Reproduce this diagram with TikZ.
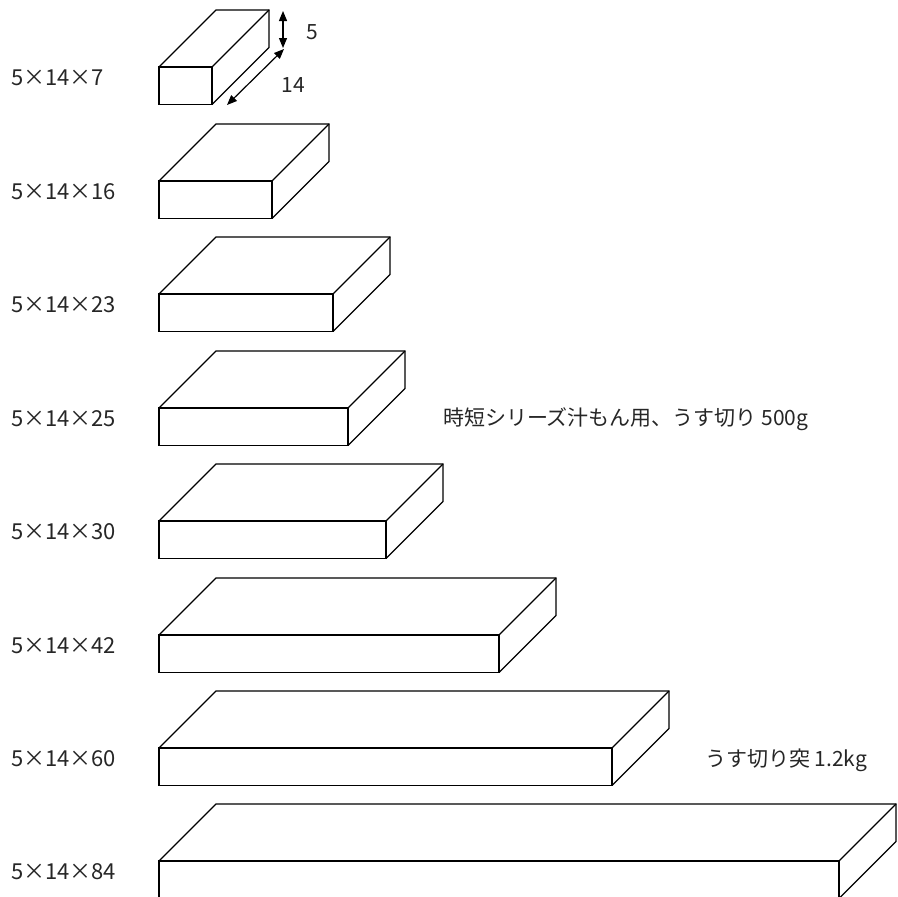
\documentclass[tikz,border=0pt]{standalone}
\usepackage{fontspec}
\setmainfont{Noto Sans CJK JP}
\newfontfamily\fwfont[CharacterWidth=Full]{Noto Sans CJK JP}
\usetikzlibrary{arrows.meta}
\newcommand{\tms}{{\fwfont ×}}
\begin{document}
\begin{tikzpicture}[x=1pt,y=-1pt,line width=1.3pt,
  every node/.style={inner sep=0pt,outer sep=0pt,font=\fontsize{21}{25}\selectfont,text=black!85},
  sizelabel/.style={anchor=west,font=\fontsize{22}{26}\selectfont},
  dimtip/.style={{Triangle[length=10pt,width=8pt]}-{Triangle[length=10pt,width=8pt]}}]
  \useasboundingbox (0,0) rectangle (897,897);
  % boxes: length / front width / front top
  \foreach \len/\w/\top in {7/53/67, 16/113/181, 23/174/294, 25/189/408,
                            30/227/521, 42/340/635, 60/453/748, 84/680/861} {
    \draw (159,\top) rectangle ++(\w,37.5);
    \draw (159,\top) -- ++(57,-57) -- ++(\w,0) -- ++(0,37.5) -- ++(-57,57);
    \draw (159+\w,\top) -- ++(57,-57);
    \node[sizelabel] (size\len) at (11,\top+11) {5\tms14\tms\len};
  }
  % dimensions of the smallest box
  \coordinate (htop) at (283,11);
  \coordinate (hbot) at (283,48);
  \coordinate (dback) at (284,49);
  \coordinate (dfront) at (227,105);
  \draw[dimtip,line width=1.2pt] (htop) -- (hbot);
  \draw[dimtip,line width=1.2pt] (dback) -- (dfront);
  \node (hval) at (312,32) {5};
  \node (dval) at (293,85) {14};
  % notes
  \node[anchor=west] (note25) at (443,419) {時短シリーズ汁もん用、うす切り 500g};
  \node[anchor=west] (note60) at (705,760) {うす切り突 1.2kg};
\end{tikzpicture}
\end{document}
